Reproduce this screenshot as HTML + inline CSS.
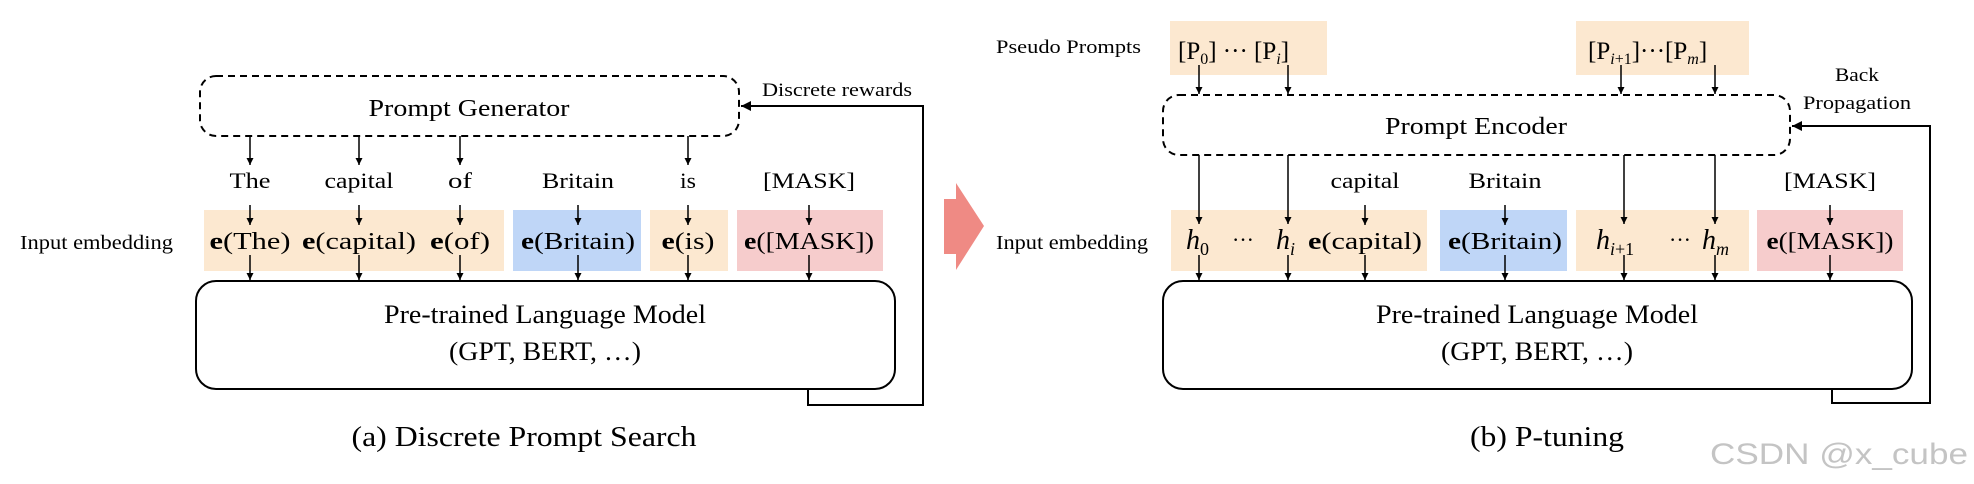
<!DOCTYPE html>
<html><head><meta charset="utf-8"><style>
html,body{margin:0;padding:0;background:#fff;}
svg{display:block;}
text{font-family:"Liberation Serif",serif;fill:#000;}
</style></head><body>
<svg width="1974" height="484" viewBox="0 0 1974 484" xmlns="http://www.w3.org/2000/svg">
<defs>
<marker id="a" viewBox="0 0 10 10" refX="10" refY="5" markerWidth="7" markerHeight="7" markerUnits="userSpaceOnUse" orient="auto"><path d="M0,0L10,5L0,10z" fill="#000"/></marker>
<marker id="b" viewBox="0 0 10 10" refX="10" refY="5" markerWidth="10" markerHeight="10" markerUnits="userSpaceOnUse" orient="auto"><path d="M0,0L10,5L0,10z" fill="#000"/></marker>
</defs>

<!-- ===== LEFT PANEL ===== -->
<rect x="200" y="76" width="539" height="60" rx="16" fill="none" stroke="#000" stroke-width="2" stroke-dasharray="7,5"/>
<text x="469" y="116" font-size="24" text-anchor="middle" textLength="201" lengthAdjust="spacingAndGlyphs">Prompt Generator</text>
<text x="762" y="96" font-size="19" textLength="150" lengthAdjust="spacingAndGlyphs">Discrete rewards</text>
<polyline points="808,390 808,405 923,405 923,106 741,106" fill="none" stroke="#000" stroke-width="2" marker-end="url(#b)"/>

<g stroke="#000" stroke-width="1.5" marker-end="url(#a)">
<line x1="250" y1="136" x2="250" y2="165"/>
<line x1="359" y1="136" x2="359" y2="165"/>
<line x1="460" y1="136" x2="460" y2="165"/>
<line x1="688" y1="136" x2="688" y2="165"/>
</g>
<g font-size="22" text-anchor="middle">
<text x="250" y="188" textLength="41" lengthAdjust="spacingAndGlyphs">The</text>
<text x="359" y="188" textLength="69" lengthAdjust="spacingAndGlyphs">capital</text>
<text x="460" y="188" textLength="24" lengthAdjust="spacingAndGlyphs">of</text>
<text x="578" y="188" textLength="72" lengthAdjust="spacingAndGlyphs">Britain</text>
<text x="688" y="188" textLength="16" lengthAdjust="spacingAndGlyphs">is</text>
<text x="809" y="188" textLength="92" lengthAdjust="spacingAndGlyphs">[MASK]</text>
</g>
<rect x="204" y="210" width="300" height="61" fill="#fce8d0"/>
<rect x="513" y="210" width="128" height="61" fill="#bfd6f7"/>
<rect x="650" y="210" width="78" height="61" fill="#fce8d0"/>
<rect x="737" y="210" width="146" height="61" fill="#f6cccc"/>
<text x="20" y="249" font-size="20" textLength="153" lengthAdjust="spacingAndGlyphs">Input embedding</text>
<g font-size="24" text-anchor="middle">
<text x="250" y="249" textLength="81" lengthAdjust="spacingAndGlyphs"><tspan font-weight="bold">e</tspan>(The)</text>
<text x="359" y="249" textLength="114" lengthAdjust="spacingAndGlyphs"><tspan font-weight="bold">e</tspan>(capital)</text>
<text x="460" y="249" textLength="60" lengthAdjust="spacingAndGlyphs"><tspan font-weight="bold">e</tspan>(of)</text>
<text x="578" y="249" textLength="114" lengthAdjust="spacingAndGlyphs"><tspan font-weight="bold">e</tspan>(Britain)</text>
<text x="688" y="249" textLength="53" lengthAdjust="spacingAndGlyphs"><tspan font-weight="bold">e</tspan>(is)</text>
<text x="809" y="249" textLength="130" lengthAdjust="spacingAndGlyphs"><tspan font-weight="bold">e</tspan>([MASK])</text>
</g>
<g stroke="#000" stroke-width="1.5" marker-end="url(#a)">
<line x1="250" y1="205" x2="250" y2="225"/><line x1="250" y1="255" x2="250" y2="280"/>
<line x1="359" y1="205" x2="359" y2="225"/><line x1="359" y1="255" x2="359" y2="280"/>
<line x1="460" y1="205" x2="460" y2="225"/><line x1="460" y1="255" x2="460" y2="280"/>
<line x1="578" y1="205" x2="578" y2="225"/><line x1="578" y1="255" x2="578" y2="280"/>
<line x1="688" y1="205" x2="688" y2="225"/><line x1="688" y1="255" x2="688" y2="280"/>
<line x1="809" y1="205" x2="809" y2="225"/><line x1="809" y1="255" x2="809" y2="280"/>
</g>
<rect x="196" y="281" width="699" height="108" rx="20" fill="none" stroke="#000" stroke-width="2"/>
<text x="545" y="323" font-size="26" text-anchor="middle" textLength="322" lengthAdjust="spacingAndGlyphs">Pre-trained Language Model</text>
<text x="545" y="360" font-size="26" text-anchor="middle" textLength="192" lengthAdjust="spacingAndGlyphs">(GPT, BERT, …)</text>
<text x="524" y="446" font-size="28" text-anchor="middle" textLength="345" lengthAdjust="spacingAndGlyphs">(a) Discrete Prompt Search</text>

<!-- big arrow -->
<polygon points="944,199 956,199 956,183 984,226 956,270 956,254 944,254" fill="#ef8a84"/>

<!-- ===== RIGHT PANEL ===== -->
<text x="996" y="53" font-size="19" textLength="145" lengthAdjust="spacingAndGlyphs">Pseudo Prompts</text>
<rect x="1170" y="21" width="157" height="54" fill="#fce8d0"/>
<rect x="1576" y="21" width="173" height="54" fill="#fce8d0"/>
<text x="1178" y="59" font-size="25">[P<tspan font-size="16" dy="5">0</tspan><tspan dy="-5">] ··· [P</tspan><tspan font-size="16" dy="5" font-style="italic">i</tspan><tspan dy="-5">]</tspan></text>
<text x="1588" y="59" font-size="25">[P<tspan font-size="16" dy="5"><tspan font-style="italic">i</tspan>+1</tspan><tspan dy="-5">]···[P</tspan><tspan font-size="16" dy="5" font-style="italic">m</tspan><tspan dy="-5">]</tspan></text>
<g stroke="#000" stroke-width="1.5" marker-end="url(#a)">
<line x1="1199" y1="65" x2="1199" y2="94"/>
<line x1="1288" y1="65" x2="1288" y2="94"/>
<line x1="1621" y1="65" x2="1621" y2="94"/>
<line x1="1715" y1="65" x2="1715" y2="94"/>
</g>
<rect x="1163" y="95" width="627" height="60" rx="16" fill="none" stroke="#000" stroke-width="2" stroke-dasharray="7,5"/>
<text x="1476" y="134" font-size="24" text-anchor="middle" textLength="182" lengthAdjust="spacingAndGlyphs">Prompt Encoder</text>
<text x="1857" y="81" font-size="19" text-anchor="middle" textLength="44" lengthAdjust="spacingAndGlyphs">Back</text>
<text x="1857" y="109" font-size="19" text-anchor="middle" textLength="108" lengthAdjust="spacingAndGlyphs">Propagation</text>
<polyline points="1832,390 1832,403 1930,403 1930,126 1792,126" fill="none" stroke="#000" stroke-width="2" marker-end="url(#b)"/>

<rect x="1171" y="210" width="256" height="61" fill="#fce8d0"/>
<rect x="1440" y="210" width="127" height="61" fill="#bfd6f7"/>
<rect x="1576" y="210" width="173" height="61" fill="#fce8d0"/>
<rect x="1757" y="210" width="146" height="61" fill="#f6cccc"/>

<g stroke="#000" stroke-width="1.5" marker-end="url(#a)">
<line x1="1199" y1="155" x2="1199" y2="224"/>
<line x1="1288" y1="155" x2="1288" y2="224"/>
<line x1="1624" y1="155" x2="1624" y2="224"/>
<line x1="1715" y1="155" x2="1715" y2="224"/>
</g>
<g font-size="22" text-anchor="middle">
<text x="1365" y="188" textLength="69" lengthAdjust="spacingAndGlyphs">capital</text>
<text x="1505" y="188" textLength="73" lengthAdjust="spacingAndGlyphs">Britain</text>
<text x="1830" y="188" textLength="92" lengthAdjust="spacingAndGlyphs">[MASK]</text>
</g>
<text x="996" y="249" font-size="20" textLength="152" lengthAdjust="spacingAndGlyphs">Input embedding</text>
<text x="1186" y="249" font-size="28" font-style="italic">h<tspan font-style="normal" font-size="18" dy="6">0</tspan></text>
<text x="1243" y="247" font-size="22" text-anchor="middle">···</text>
<text x="1276" y="249" font-size="28" font-style="italic">h<tspan font-size="18" dy="6">i</tspan></text>
<g font-size="24" text-anchor="middle">
<text x="1365" y="249" textLength="114" lengthAdjust="spacingAndGlyphs"><tspan font-weight="bold">e</tspan>(capital)</text>
<text x="1505" y="249" textLength="114" lengthAdjust="spacingAndGlyphs"><tspan font-weight="bold">e</tspan>(Britain)</text>
<text x="1830" y="249" textLength="127" lengthAdjust="spacingAndGlyphs"><tspan font-weight="bold">e</tspan>([MASK])</text>
</g>
<text x="1596" y="249" font-size="28" font-style="italic">h<tspan font-size="18" dy="6">i<tspan font-style="normal">+1</tspan></tspan></text>
<text x="1680" y="247" font-size="22" text-anchor="middle">···</text>
<text x="1702" y="249" font-size="28" font-style="italic">h<tspan font-size="18" dy="6">m</tspan></text>
<g stroke="#000" stroke-width="1.5" marker-end="url(#a)">
<line x1="1199" y1="255" x2="1199" y2="280"/>
<line x1="1288" y1="255" x2="1288" y2="280"/>
<line x1="1365" y1="205" x2="1365" y2="225"/><line x1="1365" y1="255" x2="1365" y2="280"/>
<line x1="1505" y1="205" x2="1505" y2="225"/><line x1="1505" y1="255" x2="1505" y2="280"/>
<line x1="1624" y1="255" x2="1624" y2="280"/>
<line x1="1715" y1="255" x2="1715" y2="280"/>
<line x1="1830" y1="205" x2="1830" y2="225"/><line x1="1830" y1="255" x2="1830" y2="280"/>
</g>
<rect x="1163" y="281" width="749" height="108" rx="20" fill="none" stroke="#000" stroke-width="2"/>
<text x="1537" y="323" font-size="26" text-anchor="middle" textLength="322" lengthAdjust="spacingAndGlyphs">Pre-trained Language Model</text>
<text x="1537" y="360" font-size="26" text-anchor="middle" textLength="192" lengthAdjust="spacingAndGlyphs">(GPT, BERT, …)</text>
<text x="1547" y="446" font-size="28" text-anchor="middle" textLength="154" lengthAdjust="spacingAndGlyphs">(b) P-tuning</text>
<text x="1710" y="464" font-size="30" style="font-family:'Liberation Sans',sans-serif;fill:#c4c4c4" textLength="258" lengthAdjust="spacingAndGlyphs">CSDN @x_cube</text>
</svg>
</body></html>
